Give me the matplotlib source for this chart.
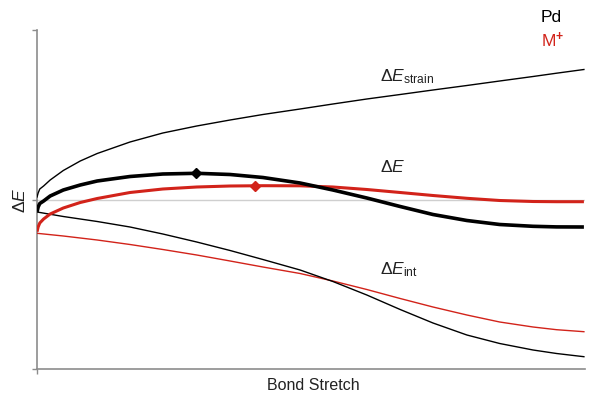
import matplotlib
matplotlib.use("Agg")
import matplotlib.pyplot as plt

plt.rcParams["font.family"] = ["Liberation Sans", "DejaVu Sans"]
plt.rcParams["mathtext.fontset"] = "custom"
plt.rcParams["mathtext.rm"] = "Liberation Sans"
plt.rcParams["mathtext.it"] = "Liberation Sans:italic"
plt.rcParams["mathtext.bf"] = "Liberation Sans:bold"

# Bond stretch coordinate (arbitrary units) for the strain and total-energy curves
x_fine = [0, 0.2, 0.5, 1.2, 2.4, 4.8, 7.9, 11, 17, 23, 29.2, 35.3, 41.3,
          48.1, 54.1, 60.3, 66.4, 72.4, 78.6, 84.6, 90.7, 95, 100]

strain = [3, 7, 11, 14, 20, 29.5, 39, 46.5, 58, 67, 74, 80, 85.5,
          91, 96, 101, 105.5, 110, 114.5, 119, 123.5, 126.8, 130.5]

de_pd = [-11.7, -7, -3.5, -1, 4, 10, 15, 19, 23.5, 26, 26.7, 25.5, 22.5,
         17, 10, 2, -6.5, -14.5, -20.5, -24.5, -26.3, -26.9, -27]

de_m = [-31.7, -27, -23, -19, -14, -8, -2.5, 1.5, 7.5, 11, 13, 14, 14.3,
        14.2, 13, 10.5, 7.5, 4.5, 1.7, -0.5, -1.5, -1.7, -1.7]

# Interaction-energy curves
x_int = [0, 4.8, 11, 17, 23, 29.2, 35.3, 41.3, 48.1, 54.1, 60.3, 66.4,
         72.4, 78.6, 84.6, 90.7, 95, 100]
int_pd = [-12, -16.5, -21.5, -27, -34, -42, -50.5, -59.5, -70, -81.5, -95,
          -109.5, -123, -135, -143.5, -150, -153.5, -156.7]
int_m = [-33.3, -36, -40, -44.5, -49.5, -55, -61, -67, -73.5, -81, -89.5,
         -98.5, -107, -115, -122, -127, -129.7, -131.7]

# Transition-state (maximum) points on each ΔE curve
ts_pd = (29.0, 26.7)
ts_m = (39.8, 14.3)

RED = "#d2231a"
AXIS_GRAY = "#8c8c8c"
TEXT = "#222222"

fig = plt.figure(figsize=(5.94, 3.98), dpi=100)
ax = fig.add_axes([36.5 / 594, 29 / 398, 548.5 / 594, 339 / 398])

ax.axhline(0, color="#cfcfcf", lw=1.0, zorder=1)

ax.plot(x_fine, strain, color="black", lw=1.0, solid_joinstyle="round", zorder=3)
ax.plot(x_int, int_m, color=RED, lw=1.0, solid_joinstyle="round", zorder=3)
ax.plot(x_int, int_pd, color="black", lw=1.0, solid_joinstyle="round", zorder=3)
ax.plot(x_fine, de_m, color=RED, lw=2.2, solid_joinstyle="round",
        solid_capstyle="butt", zorder=4)
ax.plot(x_fine, de_pd, color="black", lw=2.6, solid_joinstyle="round",
        solid_capstyle="butt", zorder=5)
ax.plot([ts_pd[0]], [ts_pd[1]], marker="D", ms=5, color="black", zorder=6)
ax.plot([ts_m[0]], [ts_m[1]], marker="D", ms=5, color=RED, zorder=6)

ax.set_xlim(-0.1, 100.2)
ax.set_ylim(-169, 170)

for side in ("top", "right"):
    ax.spines[side].set_visible(False)
for side in ("left", "bottom"):
    ax.spines[side].set_color(AXIS_GRAY)
    ax.spines[side].set_linewidth(1.2)

ax.set_xticks([0])
ax.set_yticks([-169, 0, 170])
ax.set_xticklabels([])
ax.set_yticklabels([])
ax.tick_params(axis="both", direction="out", length=3.5, width=1.0,
               color=AXIS_GRAY)

ax.text(62.7, 123, r"$\Delta E_{\mathrm{strain}}$", fontsize=12.5,
        color=TEXT, va="center", ha="left")
ax.text(62.7, 33, r"$\Delta E$", fontsize=12.5, color=TEXT,
        va="center", ha="left")
ax.text(62.7, -70, r"$\Delta E_{\mathrm{int}}$", fontsize=12.5,
        color=TEXT, va="center", ha="left")

fig.text(541 / 594, 1 - 17.5 / 398, "Pd", fontsize=12.5, color="black",
         ha="left", va="center")
fig.text(541 / 594, 1 - 40 / 398, r"M$^{\mathbf{+}}$", fontsize=12.5, color=RED,
         ha="left", va="center")

fig.text(20 / 594, 1 - 200 / 398, r"$\Delta E$", fontsize=12.5, rotation=90,
         color=TEXT, ha="center", va="center")
fig.text(313 / 594, 1 - 385 / 398, "Bond Stretch", fontsize=11.5,
         color=TEXT, ha="center", va="center")

fig.savefig("out.png", dpi=100)
